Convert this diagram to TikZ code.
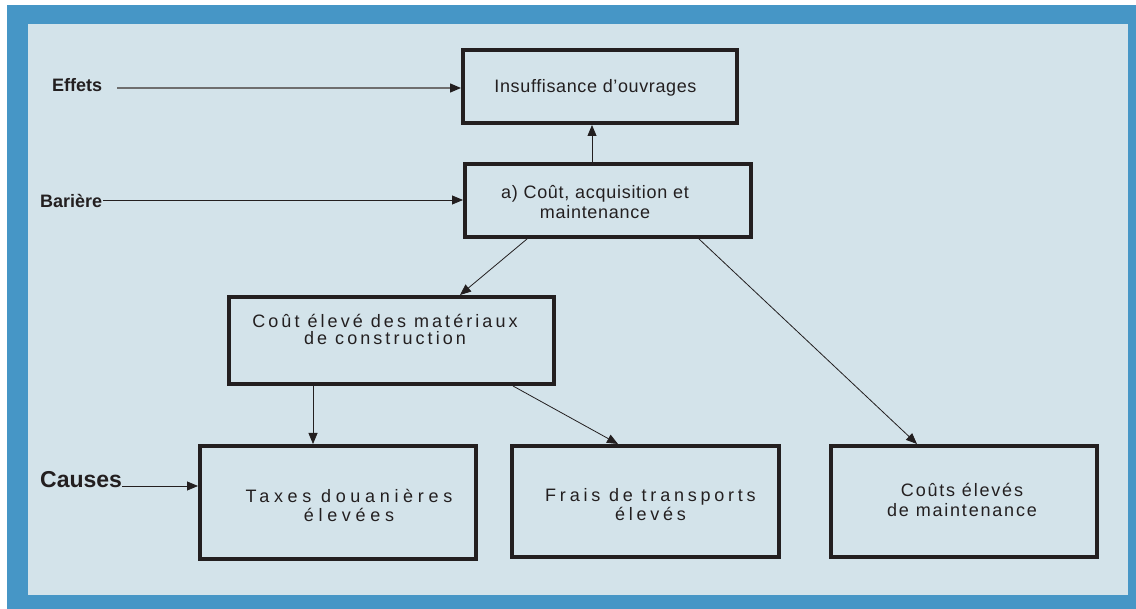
\documentclass[tikz,border=0pt]{standalone}
\usepackage{fontspec}
\setmainfont{Liberation Sans}
\usetikzlibrary{arrows.meta}
\definecolor{frameblue}{HTML}{4696C6}
\definecolor{panel}{HTML}{D3E3EA}
\definecolor{ink}{HTML}{231F20}
\definecolor{greyline}{HTML}{6E6E6E}
\newcommand{\boxfont}[1]{\fontsize{18}{20}\selectfont\addfontfeature{LetterSpace=#1}}
\begin{document}
\begin{tikzpicture}[x=1pt,y=-1pt,
  box/.style={draw=ink, line width=4pt, inner sep=0pt, rectangle},
  txt/.style={text=ink, align=center, inner sep=0pt},
  conn/.style={draw=ink, line width=0.8pt, -{Triangle[length=11pt,width=9pt]}},
  side/.style={text=ink, inner sep=0pt, anchor=base west}]
\useasboundingbox (0,0) rectangle (1136,609);
\fill[frameblue] (7,5) rectangle (1136,609);
\fill[panel] (28,24) rectangle (1128,595);
% boxes
\node[box, minimum width=274pt, minimum height=73pt] (ins) at (600,86.5) {};
\node[box, minimum width=286pt, minimum height=73pt] (bar) at (608,200.5) {};
\node[box, minimum width=325pt, minimum height=87pt] (mat) at (391.5,340.5) {};
\node[box, minimum width=276pt, minimum height=113pt] (tax) at (338,502.5) {};
\node[box, minimum width=267pt, minimum height=111pt] (fra) at (645.5,501.5) {};
\node[box, minimum width=266pt, minimum height=111pt] (mai) at (964,501.5) {};
% box texts
\node[txt, anchor=base, font=\boxfont{3.5}] (insT) at (595.5,93) {Insuffisance d’ouvrages};
\node[txt, anchor=center, font=\boxfont{4}] (barT) at (595,202.5) {a) Coût, acquisition et\\maintenance};
\node[txt, anchor=center, font=\fontsize{18}{17}\selectfont\addfontfeature{LetterSpace=17}] (matT) at (385,329.5) {Coût élevé des matériaux\\de construction};
\node[txt, anchor=center, font=\fontsize{18}{19}\selectfont\addfontfeature{LetterSpace=26}] (taxT) at (349,505) {Taxes douanières\\élevées};
\node[txt, anchor=center, font=\fontsize{18}{19}\selectfont\addfontfeature{LetterSpace=21}] (fraT) at (650.5,505) {Frais de transports\\élevés};
\node[txt, anchor=center, font=\boxfont{10}] (maiT) at (962,499.5) {Coûts élevés\\de maintenance};
% side labels
\node[side, font=\bfseries\fontsize{18}{20}\selectfont] (eff) at (52,92) {Effets};
\node[side, font=\bfseries\fontsize{18}{20}\selectfont] (bari) at (40,208) {Barière};
\node[side, font=\bfseries\fontsize{23}{26}\selectfont] (cau) at (40,488) {Causes};
\coordinate (effS) at (117,88);
\coordinate (barS) at (103,200);
\coordinate (cauS) at (122,486);
% connectors
\draw[conn, draw=greyline, line width=1.3pt, -{Triangle[length=11pt,width=9pt,fill=ink,color=ink]}] (effS) -- (effS -| ins.west);
\draw[conn] (barS) -- (barS -| bar.west);
\draw[conn] (cauS) -- (cauS -| tax.west);
\draw[conn] ([xshift=-16pt]bar.north) -- ([xshift=-8pt]ins.south);
\draw[conn] ([xshift=-81pt]bar.south) -- ([xshift=68.5pt]mat.north);
\draw[conn] ([xshift=91pt]bar.south) -- ([xshift=-47pt]mai.north);
\draw[conn] ([xshift=-78.5pt]mat.south) -- ([xshift=-25pt]tax.north);
\draw[conn] ([xshift=121.5pt]mat.south) -- ([xshift=-27.5pt]fra.north);
\end{tikzpicture}
\end{document}
